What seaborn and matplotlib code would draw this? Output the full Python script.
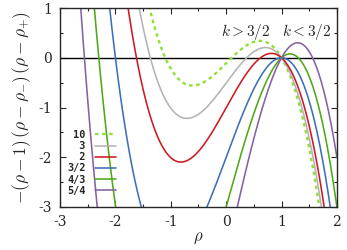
import numpy as np
import pandas as pd
import seaborn as sns
import matplotlib.pyplot as plt

# curves: -(rho-1)(rho-rho_minus)(rho-rho_plus), roots
k_labels = [" 10", "  3", "  2", "3/2", "4/3", "5/4"]
rho_minus = [-1.10, -1.37, -1.62, -2.00, -2.30, -2.56]
rho_plus = [0.10, 0.37, 0.62, 1.00, 1.30, 1.56]
colors = ["#8fe03a", "#b4b4b4", "#cc1a22", "#3c70b8", "#4fa818", "#8462a4"]
styles = [(0, (1.5, 1.5)), "-", "-", "-", "-", "-"]

sns.set_style("ticks")
plt.rcParams["font.family"] = ["DejaVu Serif"]
plt.rcParams["mathtext.fontset"] = "cm"

rho = np.linspace(-3, 2, 600)
rows = []
for lab, rm, rp in zip(k_labels, rho_minus, rho_plus):
    f = -(rho - 1) * (rho - rm) * (rho - rp)
    rows.append(pd.DataFrame({"rho": rho, "f": f, "k": lab}))
df = pd.concat(rows)

fig = plt.figure(figsize=(3.47, 2.5), dpi=100)
ax = fig.add_axes([0.173, 0.172, 0.798, 0.796])

ax.axhline(0, color="black", lw=1.0, zorder=1)
for lab, c, ls in zip(k_labels, colors, styles):
    sub = df[df["k"] == lab]
    sns.lineplot(data=sub, x="rho", y="f", ax=ax, color=c, lw=1.15 if ls == "-" else 1.7,
                 linestyle=ls, label=lab, sort=False)

ax.set_xlim(-3, 2)
ax.set_ylim(-3, 1)
ax.set_xticks([-3, -2, -1, 0, 1, 2])
ax.set_xticklabels(["-3", "-2", "-1", "0", "1", "2"])
ax.set_yticks([-3, -2, -1, 0, 1])
ax.set_yticklabels(["-3", "-2", "-1", "0", "1"])
ax.set_xticks(np.arange(-3, 2.01, 0.5), minor=True)
ax.set_yticks(np.arange(-3, 1.01, 0.5), minor=True)
ax.tick_params(which="both", direction="in", top=True, right=True, labelsize=10, width=0.8)
ax.tick_params(which="major", length=4, pad=6)
ax.tick_params(which="minor", length=2.5)
for s in ax.spines.values():
    s.set_linewidth(1.0)

ax.set_xlabel(r"$\rho$", fontsize=12, labelpad=0)
ax.set_ylabel(r"$-(\rho-1)\,(\rho-\rho_{-})\,(\rho-\rho_{+})$", fontsize=12.5, labelpad=4)

ax.text(0.36, 0.52, r"$k>3/2$", ha="center", va="center", fontsize=11)
ax.text(1.45, 0.52, r"$k<3/2$", ha="center", va="center", fontsize=11)

leg = ax.legend(loc="lower left", bbox_to_anchor=(0.0, 0.02), frameon=False,
                markerfirst=False, handlelength=2.1, handletextpad=0.9,
                labelspacing=0.12, borderpad=0.2,
                prop={"family": "DejaVu Sans Mono", "weight": "bold", "size": 7.3})

fig.savefig("out.png", dpi=100)
